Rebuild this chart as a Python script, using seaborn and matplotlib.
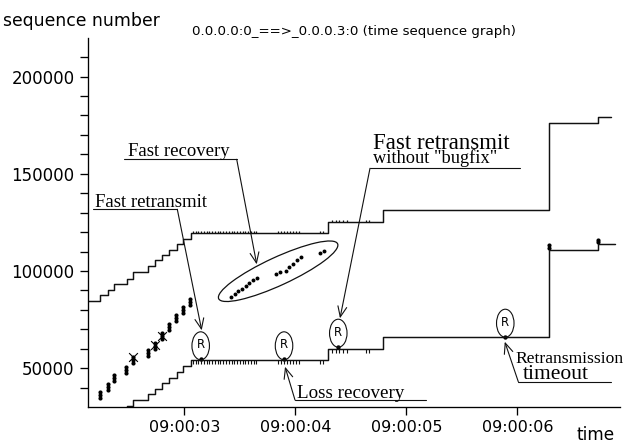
import matplotlib
matplotlib.use("Agg")
import matplotlib.pyplot as plt
import matplotlib.transforms as mtransforms
from matplotlib.patches import Ellipse
from matplotlib.lines import Line2D
import seaborn as sns

# ---------------------------------------------------------------------------
# Data: times are seconds after 09:00:00, values are TCP sequence numbers
# ---------------------------------------------------------------------------

# cumulative ACK line (step function)
ack_time = [2.100, 2.238, 2.308, 2.367, 2.479, 2.539, 2.674, 2.734, 2.800,
            2.863, 2.930, 2.989, 3.059, 4.296, 4.792, 6.288, 6.724, 6.880]
ack_seq = [19300, 21900, 24900, 28000, 30560, 33560, 36490, 39210, 42140,
           45020, 48100, 51030, 54110, 59760, 65930, 111000, 114080, 114080]

# advertised receive-window edge (step function)
win_time = [2.100, 2.238, 2.308, 2.367, 2.479, 2.539, 2.674, 2.734, 2.800,
            2.863, 2.930, 2.989, 3.059, 4.296, 4.792, 6.288, 6.724, 6.841]
win_seq = [84800, 87520, 90440, 93530, 96100, 99490, 102420, 105500, 108070,
           111000, 113720, 116650, 119530, 125100, 131200, 176060, 179140, 179140]

# data segments sent in bursts of three
seg_time = [2.238, 2.238, 2.238, 2.308, 2.308, 2.308, 2.367, 2.367, 2.367,
            2.470, 2.470, 2.470, 2.539, 2.539, 2.539, 2.674, 2.674, 2.674,
            2.734, 2.734, 2.734, 2.800, 2.800, 2.800, 2.861, 2.861, 2.861,
            2.923, 2.923, 2.923, 2.989, 2.989, 2.989, 3.053, 3.053, 3.053,
            6.288, 6.288, 6.724, 6.724]
seg_seq = [34750, 36210, 37670, 39020, 40480, 41940, 43340, 44800, 46260,
           47610, 49070, 50530, 52760, 54220, 55680, 56510, 57970, 59430,
           59960, 61420, 62880, 65100, 66560, 68020, 69580, 71040, 72500,
           74210, 75670, 77130, 78480, 79940, 81400, 82750, 84210, 85670,
           111800, 113200, 114800, 116200]

# new data sent while in fast recovery
fr_time = [3.419, 3.452, 3.486, 3.518, 3.551, 3.585, 3.617, 3.651,
           3.822, 3.861, 3.912, 3.946, 3.981, 4.016, 4.050, 4.221, 4.260]
fr_seq = [86780, 88170, 89560, 90950, 92340, 93720, 95160, 96550,
          98460, 99330, 100150, 101960, 103760, 105560, 107360, 109100, 110290]

# segments lost on the way
lost_time = [2.539, 2.734, 2.800]
lost_seq = [55900, 61700, 66800]

# retransmitted segments
rtx_time = [3.146, 3.897, 4.386, 5.891]
rtx_seq = [54580, 54580, 61060, 66200]

# duplicate ACKs (tick on the ACK line and on the window line)
dup_time = [3.077, 3.102, 3.126, 3.151, 3.176, 3.201, 3.225, 3.251, 3.275,
            3.300, 3.324, 3.350, 3.374, 3.399, 3.424, 3.449, 3.473, 3.498,
            3.523, 3.548, 3.572, 3.598, 3.622, 3.647, 3.846, 3.874, 3.901,
            3.928, 3.955, 3.982, 4.009, 4.036, 4.221, 4.251,
            4.327, 4.361, 4.394, 4.429, 4.463, 4.636, 4.666]
dup_ack = [54110] * 34 + [59760] * 7
dup_win = [119530] * 34 + [125100] * 7

xtick_pos = [3, 4, 5, 6]
xtick_labels = ["09:00:03", "09:00:04", "09:00:05", "09:00:06"]
ytick_pos = [50000, 100000, 150000, 200000]
ytick_labels = ["50000", "100000", "150000", "200000"]

# ---------------------------------------------------------------------------
sns.set_theme(style="ticks")
plt.rcParams["font.family"] = ["DejaVu Sans"]
plt.rcParams["text.color"] = "black"
plt.rcParams["axes.edgecolor"] = "black"
plt.rcParams["xtick.color"] = "black"
plt.rcParams["ytick.color"] = "black"

INK = "#111111"
SERIF = ["Liberation Serif", "DejaVu Serif"]
W, H = 624, 443

fig = plt.figure(figsize=(W / 100, H / 100), dpi=100)
fig.patch.set_facecolor("white")
ax = fig.add_axes([88.3 / W, 1 - 407.1 / H, (620 - 88.3) / W, (407.1 - 37.7) / H])
ax.set_facecolor("white")

sns.lineplot(x=win_time, y=win_seq, drawstyle="steps-post", color=INK, lw=1.05,
             estimator=None, sort=False, ax=ax)
sns.lineplot(x=ack_time, y=ack_seq, drawstyle="steps-post", color=INK, lw=1.05,
             estimator=None, sort=False, ax=ax)

ax.plot(dup_time, dup_ack, ls="none", marker=3, ms=2.6, mew=0.8, color=INK)
ax.plot(dup_time, dup_win, ls="none", marker=2, ms=1.4, mew=0.9, color=INK)

sns.scatterplot(x=seg_time, y=seg_seq, s=9, color="black", linewidth=0, ax=ax)
sns.scatterplot(x=fr_time, y=fr_seq, s=8, color="black", linewidth=0, ax=ax)
sns.scatterplot(x=rtx_time, y=rtx_seq, s=10, color="black", linewidth=0, ax=ax)
sns.scatterplot(x=lost_time, y=lost_seq, s=40, marker="x", color="black",
                linewidth=0.8, ax=ax)

ax.set_xlim(2.133, 6.925)
ax.set_ylim(30000, 220000)

ax.set_xticks(xtick_pos)
ax.set_xticklabels(xtick_labels)
ax.set_yticks(ytick_pos)
ax.set_yticklabels(ytick_labels)
ax.set_yticks(list(range(40000, 215000, 10000)), minor=True)
ax.tick_params(axis="both", which="both", direction="out", length=5.8,
               width=0.95, color="black")
ax.tick_params(axis="y", labelsize=12, pad=4)
ax.tick_params(axis="x", labelsize=11.5, pad=3.4)
ax.set_xlabel("")
ax.set_ylabel("")
sns.despine(ax=ax)
for side in ("left", "bottom"):
    ax.spines[side].set_linewidth(0.95)
    ax.spines[side].set_color("black")

ax.set_title("0.0.0.0:0_==>_0.0.0.3:0 (time sequence graph)", fontsize=9.6,
             pad=0.8)
fig.text(3 / W, 1 - 25.7 / H, "sequence number", fontsize=12.4, va="baseline")
fig.text(576.7 / W, 1 - 439.5 / H, "time", fontsize=12.2, va="baseline")

# "R" marks over the retransmitted segments
for t, v in zip(rtx_time, rtx_seq):
    tr = fig.dpi_scale_trans + mtransforms.ScaledTranslation(t, v, ax.transData)
    ax.add_patch(Ellipse((0, 0.135), 0.175, 0.28, transform=tr, fill=False,
                         ec=INK, lw=0.8, clip_on=False))
    ax.annotate("R", xy=(t, v), xytext=(0, 8), textcoords="offset points",
                ha="center", va="baseline", fontsize=8.4)

# outline around the fast-recovery burst
cx = (fr_time[0] + fr_time[-1]) / 2
cy = (fr_seq[0] + fr_seq[-1]) / 2
tr = (fig.dpi_scale_trans + mtransforms.ScaledTranslation(cx, cy, ax.transData))
ax.add_patch(Ellipse((0.005, 0.026), 1.31, 0.28, angle=24.8, transform=tr,
                     fill=False, ec=INK, lw=0.9, clip_on=False))


# callouts: text, underline, and a leader line ending in an open arrow
def fig_text(x, y, s, size):
    fig.text(x / W, 1 - y / H, s, family=SERIF, fontsize=size, va="baseline",
             ha="left")


def underline(x0, x1, y):
    fig.add_artist(Line2D([x0 / W, x1 / W], [1 - y / H, 1 - y / H],
                          transform=fig.transFigure, color=INK, lw=0.8))


def leader(start, t, v, dx, dy):
    tip = mtransforms.offset_copy(ax.transData, fig=fig, x=dx, y=dy,
                                  units="dots")
    ax.annotate("", xy=(t, v), xycoords=tip,
                xytext=(start[0], H - start[1]), textcoords="figure pixels",
                arrowprops=dict(arrowstyle="->,head_length=0.75,head_width=0.32",
                                color=INK, lw=0.8, shrinkA=0, shrinkB=0,
                                mutation_scale=10),
                annotation_clip=False)


fig_text(95, 206.5, "Fast retransmit", 13.5)
underline(93.3, 177.3, 209.3)
leader((177.3, 209.3), rtx_time[0], rtx_seq[0], 1, 29)

fig_text(127.7, 156.3, "Fast recovery", 13.5)
underline(124.3, 236.7, 159.3)
leader((236.7, 159.3), fr_time[7], fr_seq[7], 0, 13.4)

fig_text(373.3, 148.8, "Fast retransmit", 16.5)
fig_text(373.3, 162.6, "without \"bugfix\"", 13.2)
underline(370, 520, 168.3)
leader((370, 168.3), rtx_time[2], rtx_seq[2], 1.7, 28.4)

fig_text(296.7, 398.3, "Loss recovery", 13.7)
underline(295, 426, 400)
leader((295, 400), rtx_time[1], rtx_seq[1], 1, -7.4)

fig_text(515, 362.8, "Retransmission", 12.6)
fig_text(522.7, 379, "timeout", 15.5)
underline(518.3, 610.7, 381.7)
leader((518.3, 381.7), rtx_time[3], rtx_seq[3], -0.5, -5)

fig.savefig("out.png", dpi=100, facecolor="white")
